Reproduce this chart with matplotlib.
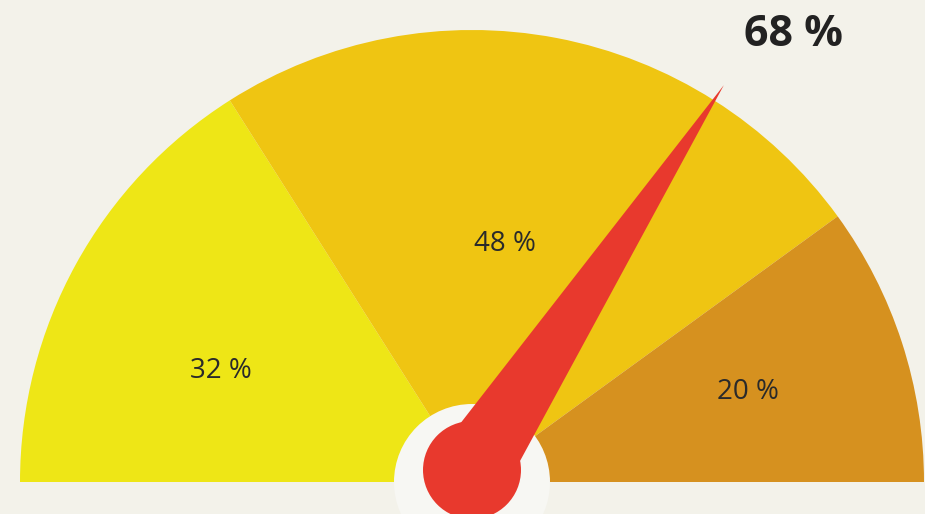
import numpy as np
import matplotlib.pyplot as plt
from matplotlib.patches import Wedge, Circle, Polygon

# gauge data (left to right)
shares = [32, 48, 20]
labels = ['32 %', '48 %', '20 %']
colors = ['#eee616', '#efc512', '#d6911f']
needle_value = 68
needle_label = '68 %'

plt.rcParams['font.family'] = ['Open Sans', 'DejaVu Sans']

fig = plt.figure(figsize=(9.25, 5.14), dpi=100)
fig.patch.set_facecolor('#f3f2ea')
ax = fig.add_axes([0, 0, 1, 1])
ax.set_xlim(0, 925)
ax.set_ylim(0, 514)
ax.set_aspect('equal')
ax.axis('off')

cx, cy = 472, 32
radius = 452
label_r = [275, 240, 290]
label_nudge = [5, 3, 0]  # degrees, just to sit where the original has them

# segments, going clockwise from the left end
start = 180.0
for share, lab, col, lr, nd in zip(shares, labels, colors, label_r, label_nudge):
    end = start - share * 1.8
    ax.add_patch(Wedge((cx, cy), radius, end, start, facecolor=col, edgecolor='none'))
    mid = np.radians((start + end) / 2 + nd)
    ax.text(cx + lr * np.cos(mid), cy + lr * np.sin(mid), lab,
            ha='center', va='center', fontsize=20, color='#2a2a2a')
    start = end

# white hub behind the needle
ax.add_patch(Circle((cx, cy), 78, facecolor='#f7f7f3', edgecolor='none'))

# needle
ang = np.radians(180 - needle_value * 1.8)
tip = (cx + 470 * np.cos(ang), cy + 470 * np.sin(ang))
half_w = 38
px, py = -np.sin(ang) * half_w, np.cos(ang) * half_w
ax.add_patch(Polygon([(cx + px, cy + 12 + py), tip, (cx - px, cy + 12 - py)],
                     closed=True, facecolor='#e8392d', edgecolor='none'))
ax.add_patch(Circle((cx, cy + 12), 49, facecolor='#e8392d', edgecolor='none'))

ax.text(793, 480, needle_label, ha='center', va='center', fontsize=31,
        fontweight='bold', color='#222222')

fig.savefig('out.png', dpi=100, facecolor=fig.get_facecolor())
